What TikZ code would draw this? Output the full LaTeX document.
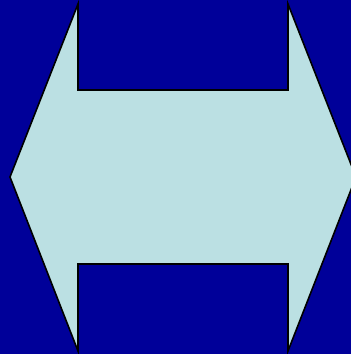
\documentclass[tikz,border=0pt]{standalone}
\definecolor{bgblue}{RGB}{0,0,153}
\definecolor{arrowfill}{RGB}{187,224,227}
\tikzset{dblarrow/.style={fill=arrowfill,draw=black,line width=1.6pt,line join=miter}}
\begin{document}
\begin{tikzpicture}[x=1pt,y=-1pt]
\useasboundingbox (0,0) rectangle (351,354);
\clip (0,0) rectangle (351,354);
\fill[bgblue] (0,0) rectangle (351,354);
\draw[dblarrow] (10,177) -- (78,4) -- (78,90) -- (288,90) -- (288,4) -- (356,177) -- (288,351) -- (288,264) -- (78,264) -- (78,351) -- cycle;
\end{tikzpicture}
\end{document}
